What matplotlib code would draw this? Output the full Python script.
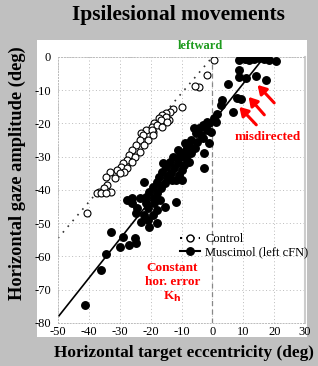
import numpy as np
import matplotlib
matplotlib.use("Agg")
import matplotlib.pyplot as plt
from matplotlib.patches import Rectangle

plt.rcParams['font.family'] = ['Liberation Serif', 'DejaVu Serif']
plt.rcParams['axes.unicode_minus'] = False

# Control saccades (open circles): target eccentricity, gaze amplitude
ctrl_x = [0.5, -1.6, -4.5, -5.5, -9.7, -12.9, -13.6, -15.0, -16.2, -17.2, -14.2, -18.8,
          -19.7, -21.4, -19.4, -23.0, -14.9, -16.5, -14.6, -18.1, -16.2, -19.7, -22.6,
          -19.4, -23.6, -21.0, -24.6, -22.0, -25.9, -23.6, -26.9, -25.2, -27.8, -26.2,
          -29.0, -29.5, -27.5, -28.5, -31.0, -33.3, -30.0, -34.3, -31.7, -34.0, -35.0,
          -32.7, -36.6, -37.5, -36.0, -34.3, -40.5]
ctrl_y = [-1.0, -5.4, -9.0, -8.7, -15.0, -15.6, -16.5, -16.8, -17.4, -18.3, -18.9, -19.8,
          -21.0, -22.0, -22.5, -22.8, -18.0, -18.9, -19.5, -20.4, -21.0, -21.9, -23.4,
          -23.4, -24.9, -24.9, -26.4, -26.4, -27.9, -28.5, -29.4, -30.0, -30.9, -31.5,
          -31.8, -33.0, -33.3, -34.5, -34.0, -34.5, -35.0, -36.0, -36.3, -38.4, -39.3,
          -40.5, -40.5, -40.8, -40.8, -40.8, -46.8]

# Muscimol (left cFN) saccades (filled circles)
musc_x = [8.7, 10.4, 12.0, 13.6, 15.2, 16.8, 18.4, 20.7, 8.7, 8.7, 11.0, 14.2, 17.5, 5.2,
          8.1, 9.2, 3.2, 2.9, 6.5, 1.6, 0.6, 1.3, -1.0, -1.6, -2.6, -3.2, -4.2, -1.9,
          -5.2, -3.6, -6.8, -4.9, -1.0, -8.1, -5.8, -2.6, -9.1, -6.8, -12.9, -10.7, -8.4,
          -13.9, -11.3, -9.1, -14.9, -12.3, -2.6, -9.7, -16.2, -13.3, -10.7, -17.2, -14.6,
          -11.7, -10.0, -22.0, -18.1, -15.5, -19.4, -16.5, -20.4, -17.8, -25.9, -21.4,
          -18.8, -11.7, -27.5, -26.2, -24.3, -24.6, -21.4, -23.6, -15.5, -18.0, -19.4,
          -22.0, -23.0, -21.0, -20.4, -17.8, -32.7, -29.0, -25.2, -24.6, -26.9, -30.0,
          -34.6, -36.0, -41.4, -7.5, -3.0, -6.0, -0.5, -11.0, -7.5, -14.0, -16.0, -9.0,
          -13.0, -19.0, -21.0, -17.0]
musc_y = [-0.8, -0.5, -0.8, -0.5, -0.3, -0.5, -0.8, -1.2, -4.0, -6.0, -6.3, -5.7, -6.9, -8.1,
          -12.3, -12.6, -13.0, -14.4, -16.5, -17.0, -18.3, -19.5, -19.8, -19.5, -20.7, -20.4,
          -21.3, -21.9, -22.8, -23.4, -24.9, -25.5, -25.8, -27.0, -27.3, -28.8, -28.5, -28.8,
          -30.0, -30.0, -30.3, -31.5, -31.8, -32.4, -33.0, -33.3, -33.3, -33.9, -34.5, -34.8,
          -35.4, -36.0, -36.3, -36.9, -36.9, -37.5, -37.5, -37.8, -39.0, -39.3, -40.5, -40.8,
          -42.3, -42.0, -42.3, -43.5, -42.9, -43.8, -45.3, -46.8, -43.8, -42.3, -45.0, -46.0,
          -47.4, -47.4, -49.5, -49.0, -51.0, -49.8, -52.5, -54.0, -54.5, -55.8, -56.5, -57.0,
          -59.3, -64.2, -74.5, -26.0, -24.5, -21.5, -22.5, -28.0, -31.5, -35.5, -32.0, -26.0,
          -37.0, -44.0, -45.5, -43.0]

# regression lines (end points)
ctrl_line_x = [-50, 0]
ctrl_line_y = [-54.5, 0]
musc_line_x = [-50, 16.8]
musc_line_y = [-78.2, 0]

xticks = [-50, -40, -30, -20, -10, 0, 10, 20, 30]
yticks = [0, -10, -20, -30, -40, -50, -60, -70, -80]

fig = plt.figure(figsize=(3.18, 3.66), dpi=100)
fig.patch.set_facecolor('#c0c0c0')

# white panel behind the plot
fig.patches.append(Rectangle((0.116, 0.079), 0.85, 0.811, transform=fig.transFigure,
                             facecolor='white', edgecolor='none', zorder=-1))

ax = fig.add_axes([0.1824, 0.1175, 0.777, 0.7268])
ax.set_zorder(2)
ax.set_facecolor('white')

ax.plot(ctrl_line_x, ctrl_line_y, color='#333333', linestyle=(0, (1, 3.5)), linewidth=1.2, zorder=2)
ax.plot(musc_line_x, musc_line_y, color='black', linewidth=1.2, zorder=2)
ax.plot(ctrl_x, ctrl_y, 'o', markerfacecolor='white', markeredgecolor='black',
        markersize=5, markeredgewidth=0.8, zorder=3)
ax.plot(musc_x, musc_y, 'o', color='black', markersize=5.4, zorder=3)

# legend handles
ax.plot([], [], color='black', linestyle=(0, (1, 2)), marker='o', markerfacecolor='white',
        markersize=5, label='Control')
ax.plot([], [], color='black', marker='o', markersize=5.4, label='Muscimol (left cFN)')
leg = ax.legend(loc='upper left', bbox_to_anchor=(0.47, 0.36), frameon=False, fontsize=9,
                handlelength=1.6, handletextpad=0.4, borderpad=0, labelspacing=0.05)

ax.axvline(0, color='#888888', linestyle=(0, (4, 3)), linewidth=0.9, zorder=1)

ax.set_xlim(-50, 30)
ax.set_ylim(-80, 0)
ax.set_xticks(xticks)
ax.set_yticks(yticks)
ax.grid(True, color='#bbbbbb', linestyle=(0, (1, 2.5)), linewidth=0.7)
ax.set_axisbelow(True)
ax.tick_params(length=0, labelsize=9)
ax.tick_params(axis='y', pad=5)
ax.tick_params(axis='x', pad=2.5)
for s in ax.spines.values():
    s.set_color('#bbbbbb')
    s.set_linestyle((0, (1, 2)))
    s.set_linewidth(0.7)
ax.spines['right'].set_linestyle('-')
ax.spines['right'].set_color('#cccccc')
ax.spines['right'].set_linewidth(1.5)

# arrows pointing at misdirected saccades
arrow_heads = [(8.7, -15.0), (11.7, -12.0), (14.6, -8.4)]
arrow_tails = [(14.2, -20.4), (16.8, -17.4), (20.0, -13.8)]
for h, t in zip(arrow_heads, arrow_tails):
    ax.annotate('', xy=h, xytext=t,
                arrowprops=dict(arrowstyle='-|>,head_length=0.5,head_width=0.3',
                                color='red', linewidth=2.2, shrinkA=0, shrinkB=0))

ax.text(18, -24.2, 'misdirected', color='red', fontsize=9.5, fontweight='bold',
        ha='center', va='center')
ax.text(-13, -68, 'Constant\nhor. error\nK$_\\mathbf{h}$', color='red', fontsize=9.5,
        fontweight='bold', ha='center', va='center', linespacing=1.2)

fig.text(0.629, 0.874, 'leftward', color='#1e9b1e', fontsize=9, fontweight='bold',
         ha='center', va='center')
fig.text(0.56, 0.96, 'Ipsilesional movements', fontsize=15.5, fontweight='bold',
         ha='center', va='center')
fig.text(0.053, 0.527, 'Horizontal gaze amplitude (deg)', fontsize=13.2, fontweight='bold',
         rotation=90, ha='center', va='center')
fig.text(0.579, 0.0355, 'Horizontal target eccentricity (deg)', fontsize=12.4,
         fontweight='bold', ha='center', va='center')

fig.savefig('out.png', dpi=100, facecolor=fig.get_facecolor())
